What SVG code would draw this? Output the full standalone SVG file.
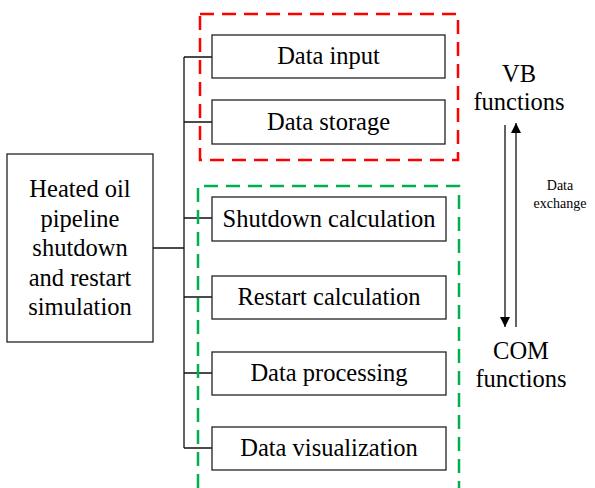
<svg xmlns="http://www.w3.org/2000/svg" width="595" height="488" viewBox="0 0 595 488">
<defs>
<marker id="ah" viewBox="0 0 10 10" refX="10" refY="5" markerWidth="10" markerHeight="10" markerUnits="userSpaceOnUse" orient="auto">
<path d="M0,0 L10,5 L0,10 Z" fill="#000"/>
</marker>
</defs>
<style>
.box{fill:#fff;stroke:#222;stroke-width:1.3}
.t{font-family:'Liberation Serif','Times New Roman',Times,'DejaVu Serif',serif;font-size:24.5px;fill:#000;text-anchor:middle}
.s{font-family:'Liberation Serif','Times New Roman',Times,'DejaVu Serif',serif;font-size:14px;fill:#000;text-anchor:middle}
.ln{fill:none;stroke:#111;stroke-width:1.3}
.red{fill:none;stroke:#ff0000;stroke-width:2.5;stroke-dasharray:14 8}
.green{fill:none;stroke:#00b050;stroke-width:2.5;stroke-dasharray:14 8}
</style>
<rect width="595" height="488" fill="#fff"/>
<g id="connectors">
<path class="ln" d="M153,248 H184 M184,57 V448 M184,57 H212 M184,122 H212 M184,218 H212 M184,297 H212 M184,373 H212 M184,448 H212"/>
<line class="ln" x1="505" y1="125" x2="505" y2="327" marker-end="url(#ah)"/>
<line class="ln" x1="516" y1="327" x2="516" y2="123" marker-end="url(#ah)"/>
</g>
<g id="vb-group"><rect class="red" x="200" y="14" width="258" height="146"/></g>
<g id="com-group"><path class="green" d="M198,488 V186 H459 V488"/></g>
<g id="main">
<rect class="box" x="7" y="154" width="146" height="188"/>
<text class="t" x="80" y="197" font-family="Liberation Serif, serif">Heated oil</text>
<text class="t" x="80" y="227">pipeline</text>
<text class="t" x="80" y="256">shutdown</text>
<text class="t" x="80" y="286">and restart</text>
<text class="t" x="80" y="315">simulation</text>
</g>
<g id="data-input"><rect class="box" x="212" y="35" width="233" height="43"/><text class="t" x="328.5" y="64">Data input</text></g>
<g id="data-storage"><rect class="box" x="212" y="100" width="233" height="44"/><text class="t" x="328.5" y="130">Data storage</text></g>
<g id="shutdown"><rect class="box" x="212" y="197" width="234" height="44"/><text class="t" x="329" y="227">Shutdown calculation</text></g>
<g id="restart"><rect class="box" x="212" y="276" width="234" height="43"/><text class="t" x="329" y="305">Restart calculation</text></g>
<g id="processing"><rect class="box" x="212" y="352" width="234" height="43"/><text class="t" x="329" y="381">Data processing</text></g>
<g id="visualization"><rect class="box" x="212" y="427" width="234" height="43"/><text class="t" x="329" y="456">Data visualization</text></g>
<g id="vb-label"><text class="t" x="519" y="82">VB</text><text class="t" x="519" y="110">functions</text></g>
<g id="com-label"><text class="t" x="521" y="359">COM</text><text class="t" x="521" y="387">functions</text></g>
<g id="exchange-label"><text class="s" x="560" y="190">Data</text><text class="s" x="560" y="208">exchange</text></g>
</svg>
